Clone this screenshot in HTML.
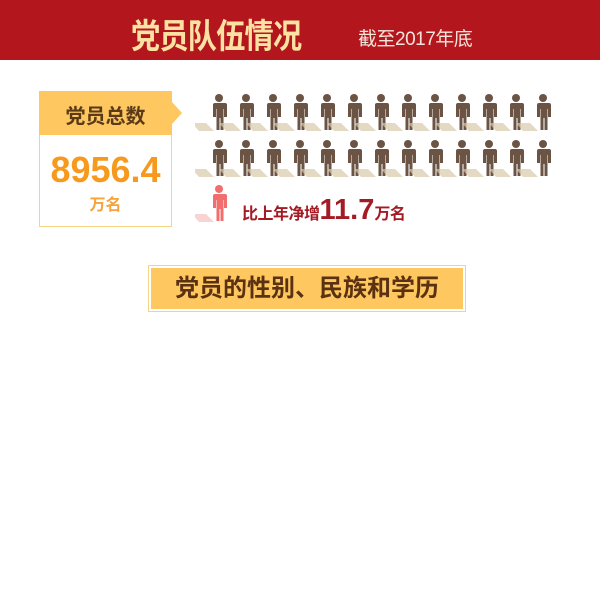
<!DOCTYPE html>
<html><head><meta charset="utf-8">
<style>
body{margin:0;width:600px;height:590px;background:#fff;position:relative;overflow:hidden;font-family:"Liberation Sans","Noto Sans CJK SC",sans-serif}
.abs{position:absolute}
</style></head><body>
<div class="abs" style="left:0;top:0;width:600px;height:60px;background:#b3161d"></div>
<div class="abs" style="left:131px;top:9px;font-size:34px;font-weight:bold;color:#fbe2a2;letter-spacing:-1px;white-space:nowrap;transform:scaleX(0.86);transform-origin:0 0">党员队伍情况</div>
<div class="abs" style="left:358px;top:24px;font-size:19px;color:#f3e6dc;letter-spacing:-0.5px;white-space:nowrap">截至2017年底</div>

<div class="abs" style="left:39px;top:91px;width:133px;height:44px;background:#fec760"></div>
<div class="abs" style="left:172px;top:102px;width:0;height:0;border-top:11px solid transparent;border-bottom:11px solid transparent;border-left:10px solid #fec760"></div>
<div class="abs" style="left:39px;top:100px;width:133px;text-align:center;font-size:20px;font-weight:bold;color:#5b3a18">党员总数</div>
<div class="abs" style="left:39px;top:135px;width:131px;height:91px;border:1px solid #f5d486;border-top:none;background:#fff"></div>
<div class="abs" style="left:39px;top:149px;width:133px;text-align:center;font-size:36px;font-weight:bold;color:#f6991d">8956.4</div>
<div class="abs" style="left:39px;top:191px;width:133px;text-align:center;font-size:16px;font-weight:bold;color:#f6a33a">万名</div>

<svg class="abs" id="pict" style="left:195px;top:88px" width="370" height="140"></svg>

<div class="abs" style="left:242px;top:194px;font-size:16px;font-weight:bold;color:#a51b24;white-space:nowrap;letter-spacing:-0.5px">比上年净增<span style="font-size:29px;letter-spacing:0">11.7</span>万名</div>

<div class="abs" style="left:148px;top:265px;width:316px;height:45px;border:1px solid #f3d587;background:#fff"></div>
<div class="abs" style="left:151px;top:268px;width:312px;height:41px;background:#fec760;text-align:center;line-height:41px;font-size:24px;font-weight:bold;color:#5a3212">党员的性别、民族和学历</div>

<script>
const rowCounts=[13,13];
const svg=document.getElementById('pict');
const NS='http://www.w3.org/2000/svg';
function person(x,y,col,shadow){
  const g=document.createElementNS(NS,'g');
  g.setAttribute('transform','translate('+x+','+y+')');
  g.innerHTML='<polygon points="-12,37 3,37 -5,29 -19,29" fill="'+shadow+'" opacity="0.7"/>'+
  '<circle cx="8" cy="4" r="4" fill="'+col+'"/>'+
  '<path d="M2,9 h12 a2,2 0 0 1 2,2 v12 h-3 v-8 h-0.5 v21 h-3 v-12 h-1 v12 h-3 v-21 h-0.5 v8 h-3 v-12 a2,2 0 0 1 2,-2z" fill="'+col+'"/>';
  return g;
}
rowCounts.forEach((n,r)=>{
  for(let i=0;i<n;i++){
    const g=person(16+i*27,6+r*46,'#6b5444','#d9c9a8');
    
    
    svg.appendChild(g);
  }
});
const red=person(16,97,'#f26d6d','#f5c0c0');


svg.appendChild(red);
</script>
</body></html>
